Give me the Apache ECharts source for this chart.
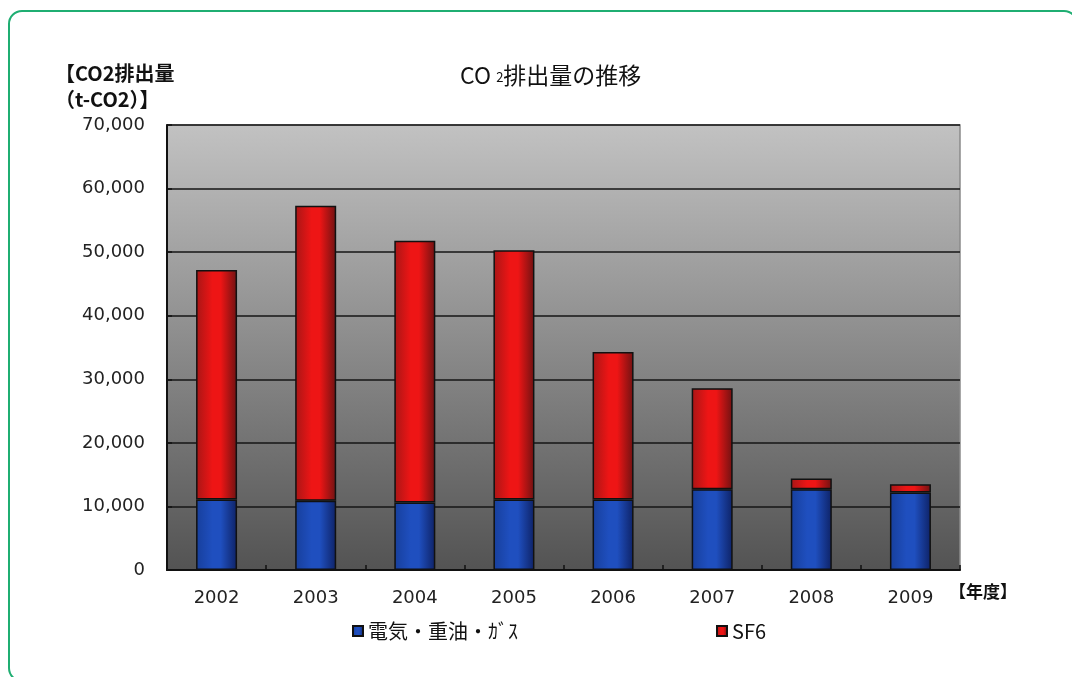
<!DOCTYPE html>
<html><head><meta charset="utf-8">
<script src="https://cdn.jsdelivr.net/npm/echarts@6/dist/echarts.min.js"></script>
<style>
html,body{margin:0;padding:0;background:#fff;}
#frame{position:absolute;left:8px;top:10px;width:1070px;height:672px;border:2px solid #1fae72;border-radius:14px;box-sizing:border-box;}
#main{position:absolute;left:0;top:0;width:1072px;height:677px;}
</style></head>
<body>
<div id="frame"></div>
<div id="main"></div>
<script>
const years = ['2002','2003','2004','2005','2006','2007','2008','2009'];
const energy = [11100, 10900, 10600, 11100, 11100, 12700, 12700, 12200];
const sf6 = [36100, 46400, 41200, 39200, 23200, 15900, 1700, 1300];
const yTicks = [0, 10000, 20000, 30000, 40000, 50000, 60000, 70000];

const font = '"Noto Sans CJK JP", "DejaVu Sans", sans-serif';
function hGrad(edgeL, mid, edgeR){
  return new echarts.graphic.LinearGradient(0,0,1,0,[
    {offset:0,color:edgeL},{offset:0.4,color:mid},{offset:0.6,color:mid},{offset:1,color:edgeR}]);
}
const chart = echarts.init(document.getElementById('main'));
chart.setOption({
  animation:false,
  title:{
    text:'CO {s|2}排出量の推移',
    left:455, top:59,
    textStyle:{fontFamily:font,fontSize:23,fontWeight:'normal',color:'#111',
      rich:{s:{fontFamily:font,fontSize:13,color:'#111',padding:[4,0,0,0]}}}
  },
  grid:{left:167,right:112,top:125,bottom:107,show:true,
    backgroundColor:new echarts.graphic.LinearGradient(0,0,0,1,[
      {offset:0,color:'#c2c2c2'},{offset:1,color:'#535353'}]),
    borderColor:'#8a8a8a',borderWidth:1.5},
  legend:[
    {data:['電気・重油・ｶﾞｽ'],left:347,top:616,itemWidth:10,itemHeight:10,icon:'rect',itemGap:6,
     textStyle:{fontFamily:font,fontSize:20,color:'#111'}},
    {data:['SF6'],left:711,top:616,itemWidth:10,itemHeight:10,icon:'rect',
     textStyle:{fontFamily:font,fontSize:20,color:'#111'}}
  ],
  xAxis:{type:'category',data:years,
    axisLine:{lineStyle:{color:'#111',width:2}},
    axisTick:{show:true,inside:true,length:5,alignWithLabel:false,lineStyle:{color:'#111',width:1.5}},
    axisLabel:{fontFamily:'"DejaVu Sans", sans-serif',fontSize:18,color:'#222',margin:19}},
  yAxis:{type:'value',min:0,max:70000,interval:10000,
    axisLine:{show:true,lineStyle:{color:'#111',width:2}},
    axisTick:{show:true,inside:true,length:5,lineStyle:{color:'#111',width:1.5}},
    splitLine:{show:true,lineStyle:{color:'#151515',width:1.5}},
    axisLabel:{fontFamily:'"DejaVu Sans", sans-serif',fontSize:18,color:'#222',margin:22,
      formatter:function(v){return yTicks.indexOf(v)>=0 ? v.toLocaleString('en-US') : '';}}},
  graphic:[
    {type:'text',left:55,top:60,style:{text:'【CO2排出量\n（t-CO2）】',fontFamily:font,fontSize:20,fontWeight:'bold',fill:'#111',lineHeight:26}},
    {type:'text',left:949,top:583,style:{text:'【年度】',fontFamily:font,fontSize:17,fontWeight:'bold',fill:'#111'}}
  ],
  series:[
    {name:'電気・重油・ｶﾞｽ',type:'bar',stack:'t',data:energy,barWidth:41,
     itemStyle:{color:hGrad('#173f9c','#1f4fbf','#0e2266'),borderColor:'#111',borderWidth:1.5}},
    {name:'SF6',type:'bar',stack:'t',data:sf6,barWidth:41,
     itemStyle:{color:hGrad('#a81616','#ee1515','#6e1212'),borderColor:'#111',borderWidth:1.5}}
  ]
});
</script>
</body></html>
